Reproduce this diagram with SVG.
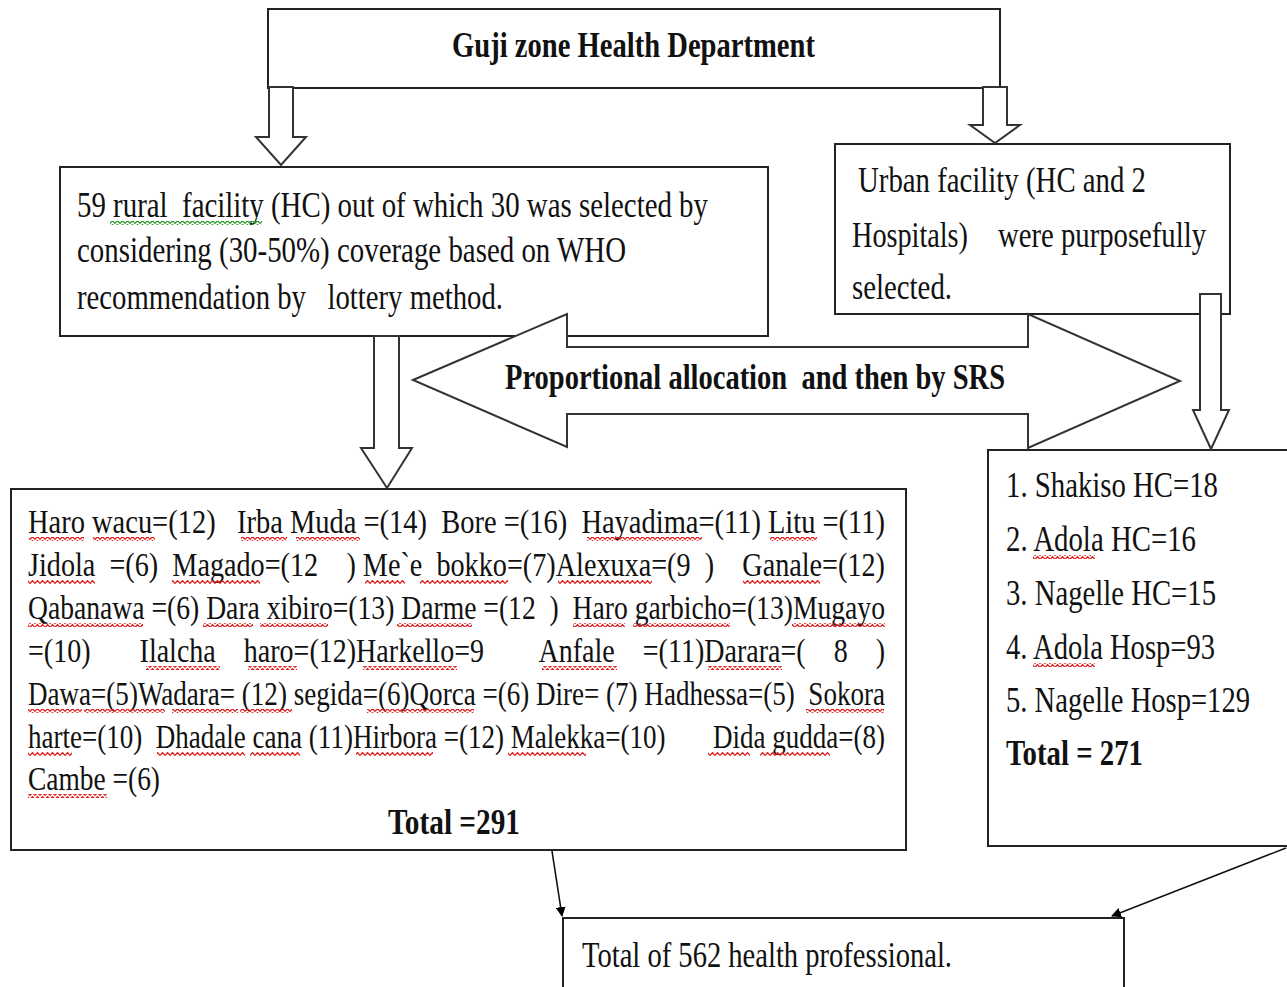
<svg xmlns="http://www.w3.org/2000/svg" width="1287" height="987" viewBox="0 0 1287 987">
<style>
.box{fill:#fff;stroke:#222;stroke-width:2}
.blk{fill:#fff;stroke:#333;stroke-width:2;stroke-linejoin:miter}
text{white-space:pre}
.t{font-family:"Liberation Serif","Times New Roman",serif;font-size:34px;fill:#111}
.tl{font-family:"Liberation Serif","Times New Roman",serif;font-size:35px;fill:#111}
.b{font-family:"Liberation Serif","Times New Roman",serif;font-size:36px;font-weight:bold;fill:#111}
.ln{stroke:#111;stroke-width:1.6;fill:none}
.sq{fill:url(#sqr)}
.sg{fill:url(#sqg)}
</style>
<defs>
<pattern id="sqr" width="5" height="4" patternUnits="userSpaceOnUse"><path d="M0 3.5 L2.5 0.5 L5 3.5" stroke="#e02020" stroke-width="1.2" fill="none"/></pattern>
<pattern id="sqg" width="5" height="4" patternUnits="userSpaceOnUse"><path d="M0 3.5 L2.5 0.5 L5 3.5" stroke="#2a9a2a" stroke-width="1.2" fill="none"/></pattern>
<marker id="ah" markerWidth="10" markerHeight="10" refX="9" refY="5" orient="auto" markerUnits="userSpaceOnUse"><path d="M0 0 L10 5 L0 10 Z" fill="#000"/></marker>
</defs>

<g id="guji">
<rect class="box" x="268" y="9" width="732" height="79"/>
<text class="b" x="452" y="57" textLength="363" lengthAdjust="spacingAndGlyphs">Guji zone Health Department</text>
</g>

<g id="rural">
<rect class="box" x="60" y="167" width="708" height="169"/>
<text class="tl" x="77" y="217" textLength="631" lengthAdjust="spacingAndGlyphs">59 rural  facility (HC) out of which 30 was selected by</text>
<text class="tl" x="77" y="262" textLength="549" lengthAdjust="spacingAndGlyphs">considering (30-50%) coverage based on WHO</text>
<text class="tl" x="77" y="309" textLength="426" lengthAdjust="spacingAndGlyphs">recommendation by   lottery method.</text>
<rect class="sg" x="110" y="221" width="152" height="4"/>
</g>

<g id="urban">
<rect class="box" x="835" y="144" width="395" height="170"/>
<text class="tl" x="858" y="192" textLength="288" lengthAdjust="spacingAndGlyphs">Urban facility (HC and 2</text>
<text class="tl" x="852" y="247" textLength="116" lengthAdjust="spacingAndGlyphs">Hospitals)</text>
<text class="tl" x="998" y="247" textLength="208" lengthAdjust="spacingAndGlyphs">were purposefully</text>
<text class="tl" x="852" y="299" textLength="100" lengthAdjust="spacingAndGlyphs">selected.</text>
</g>

<g id="rurallist">
<rect class="box" x="11" y="489" width="895" height="361"/>
<text class="t" x="28" y="533" textLength="857" lengthAdjust="spacingAndGlyphs">Haro wacu=(12)   Irba Muda =(14)  Bore =(16)  Hayadima=(11) Litu =(11)</text>
<text class="t" x="28" y="576" textLength="857" lengthAdjust="spacingAndGlyphs">Jidola  =(6)  Magado=(12    ) Me`e  bokko=(7)Alexuxa=(9  )    Ganale=(12)</text>
<text class="t" x="28" y="619" textLength="857" lengthAdjust="spacingAndGlyphs">Qabanawa =(6) Dara xibiro=(13) Darme =(12  )  Haro garbicho=(13)Mugayo</text>
<text class="t" x="28" y="662" textLength="857" lengthAdjust="spacingAndGlyphs">=(10)       Ilalcha    haro=(12)Harkello=9        Anfale    =(11)Darara=(    8    )</text>
<text class="t" x="28" y="705" textLength="857" lengthAdjust="spacingAndGlyphs">Dawa=(5)Wadara= (12) segida=(6)Qorca =(6) Dire= (7) Hadhessa=(5)  Sokora</text>
<text class="t" x="28" y="748" textLength="857" lengthAdjust="spacingAndGlyphs">harte=(10)  Dhadale cana (11)Hirbora =(12) Malekka=(10)       Dida gudda=(8)</text>
<text class="t" x="28" y="790" textLength="132" lengthAdjust="spacingAndGlyphs">Cambe =(6)</text>
<text class="b" x="388" y="834" textLength="132" lengthAdjust="spacingAndGlyphs">Total =291</text>
<rect class="sq" x="29" y="537" width="55" height="4"/>
<rect class="sq" x="93" y="537" width="62" height="4"/>
<rect class="sq" x="241" y="537" width="46" height="4"/>
<rect class="sq" x="296" y="537" width="64" height="4"/>
<rect class="sq" x="587" y="537" width="115" height="4"/>
<rect class="sq" x="770" y="537" width="47" height="4"/>
<rect class="sq" x="28" y="580" width="67" height="4"/>
<rect class="sq" x="172" y="580" width="88" height="4"/>
<rect class="sq" x="365" y="580" width="40" height="4"/>
<rect class="sq" x="420" y="580" width="88" height="4"/>
<rect class="sq" x="558" y="580" width="94" height="4"/>
<rect class="sq" x="743" y="580" width="77" height="4"/>
<rect class="sq" x="28" y="623" width="115" height="4"/>
<rect class="sq" x="203" y="623" width="50" height="4"/>
<rect class="sq" x="260" y="623" width="68" height="4"/>
<rect class="sq" x="397" y="623" width="75" height="4"/>
<rect class="sq" x="573" y="623" width="52" height="4"/>
<rect class="sq" x="633" y="623" width="97" height="4"/>
<rect class="sq" x="792" y="623" width="93" height="4"/>
<rect class="sq" x="146" y="666" width="74" height="4"/>
<rect class="sq" x="248" y="666" width="49" height="4"/>
<rect class="sq" x="363" y="666" width="94" height="4"/>
<rect class="sq" x="542" y="666" width="75" height="4"/>
<rect class="sq" x="708" y="666" width="74" height="4"/>
<rect class="sq" x="28" y="709" width="54" height="4"/>
<rect class="sq" x="84" y="709" width="81" height="4"/>
<rect class="sq" x="172" y="709" width="66" height="4"/>
<rect class="sq" x="240" y="709" width="52" height="4"/>
<rect class="sq" x="367" y="709" width="107" height="4"/>
<rect class="sq" x="806" y="709" width="78" height="4"/>
<rect class="sq" x="28" y="752" width="44" height="4"/>
<rect class="sq" x="157" y="752" width="88" height="4"/>
<rect class="sq" x="250" y="752" width="50" height="4"/>
<rect class="sq" x="356" y="752" width="77" height="4"/>
<rect class="sq" x="508" y="752" width="78" height="4"/>
<rect class="sq" x="708" y="752" width="42" height="4"/>
<rect class="sq" x="760" y="752" width="70" height="4"/>
<rect class="sq" x="28" y="794" width="79" height="4"/>
</g>

<g id="urbanlist">
<rect class="box" x="988" y="450" width="320" height="396"/>
<text class="tl" x="1006" y="497" textLength="212" lengthAdjust="spacingAndGlyphs">1. Shakiso HC=18</text>
<text class="tl" x="1006" y="551" textLength="190" lengthAdjust="spacingAndGlyphs">2. Adola HC=16</text>
<text class="tl" x="1006" y="605" textLength="210" lengthAdjust="spacingAndGlyphs">3. Nagelle HC=15</text>
<text class="tl" x="1006" y="659" textLength="209" lengthAdjust="spacingAndGlyphs">4. Adola Hosp=93</text>
<text class="tl" x="1006" y="712" textLength="244" lengthAdjust="spacingAndGlyphs">5. Nagelle Hosp=129</text>
<text class="b" x="1006" y="765" textLength="137" lengthAdjust="spacingAndGlyphs">Total = 271</text>
<rect class="sq" x="1033" y="555" width="62" height="4"/>
<rect class="sq" x="1033" y="663" width="62" height="4"/>
</g>

<g id="total">
<rect class="box" x="563" y="918" width="561" height="100"/>
<text class="tl" x="582" y="967" textLength="370" lengthAdjust="spacingAndGlyphs">Total of 562 health professional.</text>
</g>

<g id="connectors">
<polygon class="blk" points="269,87 293,87 293,137 306,137 281,165 256,137 269,137"/>
<polygon class="blk" points="983,87 1007,87 1007,125 1020,125 995,143 970,125 983,125"/>
<polygon class="blk" points="374,336 399,336 399,448 412,448 387,488 361,448 374,448"/>
<polygon class="blk" points="1200,294 1221,294 1221,410 1229,410 1211,449 1193,410 1200,410"/>
<polygon class="blk" points="413,380 567,314 567,347 1028,347 1028,314 1180,381 1028,448 1028,414 567,414 567,447"/>
<line class="ln" x1="552" y1="851" x2="562" y2="916" marker-end="url(#ah)"/>
<line class="ln" x1="1286" y1="848" x2="1112" y2="916" marker-end="url(#ah)"/>
</g>
<text class="b" x="505" y="389" textLength="500" lengthAdjust="spacingAndGlyphs">Proportional allocation  and then by SRS</text>
</svg>
